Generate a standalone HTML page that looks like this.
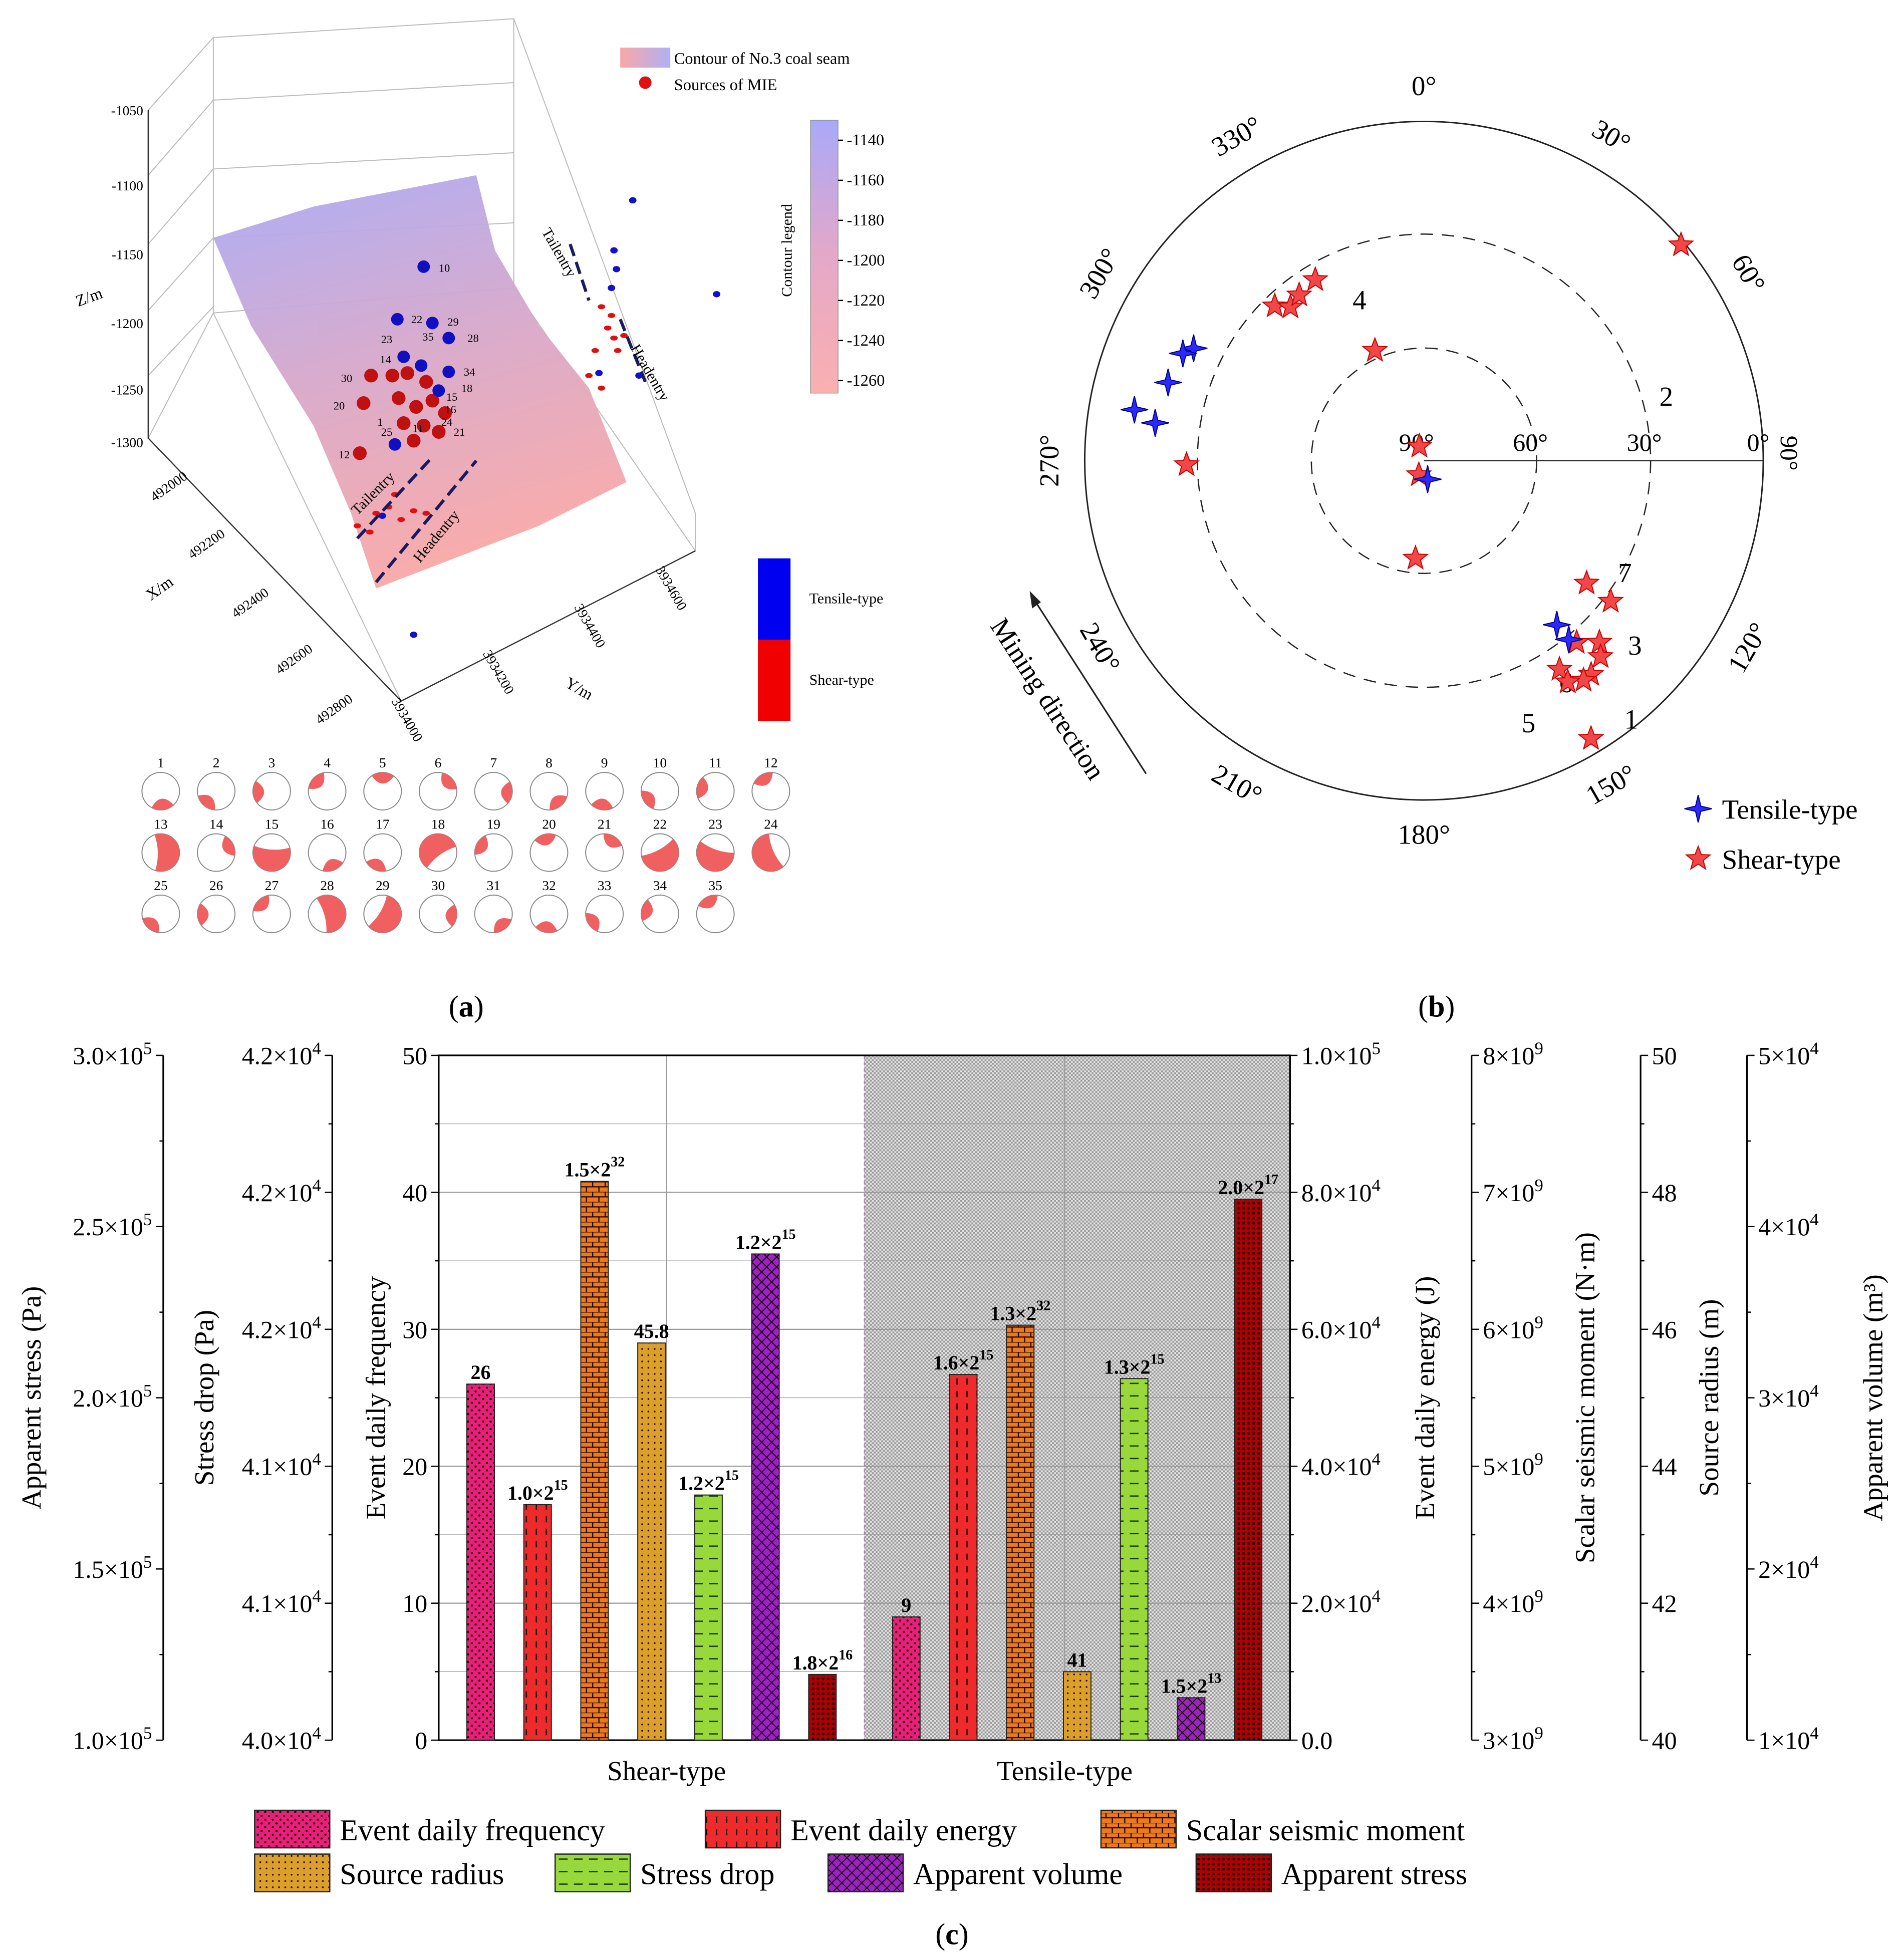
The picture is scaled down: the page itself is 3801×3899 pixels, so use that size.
<!DOCTYPE html>
<html><head><meta charset="utf-8">
<style>
html,body{margin:0;padding:0;background:#fff}
svg{display:block}
text{font-family:"Liberation Serif",serif;fill:#000}
</style></head>
<body>
<svg id="fig" width="3801" height="3899" viewBox="0 0 1520 1560" xmlns="http://www.w3.org/2000/svg">
<defs>
<linearGradient id="surf" x1="0" y1="0" x2="0.3" y2="1">
<stop offset="0" stop-color="#a9a9f5"/><stop offset="0.55" stop-color="#d9a8c8"/><stop offset="1" stop-color="#f7a8a8"/></linearGradient>
<linearGradient id="cbar" x1="0" y1="0" x2="0" y2="1">
<stop offset="0" stop-color="#a9a9f8"/><stop offset="0.5" stop-color="#e4a8c8"/><stop offset="1" stop-color="#fbb0b0"/></linearGradient>
<linearGradient id="leg1" x1="0" y1="0" x2="1" y2="0"><stop offset="0" stop-color="#f8a8a8"/><stop offset="1" stop-color="#b0b0f5"/></linearGradient>
<pattern id="grey" width="3" height="3" patternUnits="userSpaceOnUse"><rect width="3" height="3" fill="#e2e2e2"/><rect width="1.5" height="1.5" fill="#9a9a9a"/><rect x="1.5" y="1.5" width="1.5" height="1.5" fill="#9a9a9a"/></pattern>
<pattern id="p0" width="6" height="6" patternUnits="userSpaceOnUse"><rect width="6" height="6" fill="#e8207c"/><circle cx="1.5" cy="1.5" r="0.9" fill="#300"/><circle cx="4.5" cy="4.5" r="0.9" fill="#300"/></pattern>
<pattern id="p1" width="8" height="10" patternUnits="userSpaceOnUse"><rect width="8" height="10" fill="#ee2a2a"/><line x1="4" y1="1" x2="4" y2="6" stroke="#200" stroke-width="1"/></pattern>
<pattern id="p2" width="10" height="8" patternUnits="userSpaceOnUse"><rect width="10" height="8" fill="#e87a20"/><path d="M0 0H10M0 4H10M3 0V4M8 4V8" stroke="#200" stroke-width="0.9" fill="none"/></pattern>
<pattern id="p3" width="5" height="5" patternUnits="userSpaceOnUse"><rect width="5" height="5" fill="#dba02a"/><circle cx="2.5" cy="2.5" r="0.7" fill="#300"/></pattern>
<pattern id="p4" width="12" height="10" patternUnits="userSpaceOnUse"><rect width="12" height="10" fill="#98d83a"/><line x1="2" y1="5" x2="9" y2="5" stroke="#130" stroke-width="1"/></pattern>
<pattern id="p5" width="8" height="8" patternUnits="userSpaceOnUse"><rect width="8" height="8" fill="#9a22c8"/><path d="M0 8L8 0M0 0L8 8" stroke="#200" stroke-width="0.8"/></pattern>
<pattern id="p6" width="4" height="4" patternUnits="userSpaceOnUse"><rect width="4" height="4" fill="#b00000"/><rect width="2" height="2" fill="#200"/></pattern>
</defs>

<g>
<g stroke="#bbb" stroke-width="0.8" fill="none">
<path d="M118 88 L170 30 L410 15 L410 230 L170 250 L118 350 Z"/>
<path d="M170 30 V250 M410 15 L555 410 L555 440"/>
<path d="M118 140 L170 80 L410 66 M118 195 L170 135 L410 122 M118 248 L170 190 L410 178 M118 300 L170 245"/>
<path d="M410 230 L555 440 L320 560 L118 350"/>
<path d="M170 250 L320 560"/>
</g>
<g stroke="#333" stroke-width="1" fill="none"><path d="M118 88 V350 L320 560 L555 440"/></g>
<polygon points="170,190 250,165 380,140 395,200 430,260 470,310 500,385 430,420 300,470 280,410 250,340 200,260" fill="url(#surf)" opacity="0.95"/>
<g font-size="11">
<text x="114" y="92" text-anchor="end">-1050</text><text x="114" y="152" text-anchor="end">-1100</text>
<text x="114" y="207" text-anchor="end">-1150</text><text x="114" y="262" text-anchor="end">-1200</text>
<text x="114" y="315" text-anchor="end">-1250</text><text x="114" y="357" text-anchor="end">-1300</text>
<text x="62" y="245" font-size="13" transform="rotate(-20 62 245)">Z/m</text>
</g>
<g font-size="11">
<text x="150" y="382" transform="rotate(-35 150 382)" text-anchor="end">492000</text>
<text x="180" y="428" transform="rotate(-35 180 428)" text-anchor="end">492200</text>
<text x="215" y="475" transform="rotate(-35 215 475)" text-anchor="end">492400</text>
<text x="250" y="520" transform="rotate(-35 250 520)" text-anchor="end">492600</text>
<text x="282" y="560" transform="rotate(-35 282 560)" text-anchor="end">492800</text>
<text x="120" y="480" font-size="13" transform="rotate(-35 120 480)">X/m</text>
</g>
<g font-size="11">
<text x="312" y="560" transform="rotate(60 312 560)">3934000</text>
<text x="385" y="522" transform="rotate(60 385 522)">3934200</text>
<text x="458" y="485" transform="rotate(60 458 485)">3934400</text>
<text x="523" y="455" transform="rotate(60 523 455)">3934600</text>
<text x="450" y="548" font-size="13" transform="rotate(30 450 548)">Y/m</text>
</g>
<g id="sources"></g>
<g stroke="#1a1a60" stroke-width="2.5" stroke-dasharray="10 5" fill="none">
<path d="M285 430 L345 365"/><path d="M300 465 L380 368"/>
<path d="M455 195 L470 240"/><path d="M495 255 L515 305"/>
</g>
<text x="285" y="412" font-size="12" transform="rotate(-45 285 412)">Tailentry</text>
<text x="335" y="450" font-size="12" transform="rotate(-50 335 450)">Headentry</text>
<text x="432" y="185" font-size="12" transform="rotate(60 432 185)">Tailentry</text>
<text x="503" y="278" font-size="12" transform="rotate(60 503 278)">Headentry</text>
<g>
<rect x="495" y="38" width="40" height="16" fill="url(#leg1)"/>
<text x="538" y="51" font-size="13">Contour of No.3 coal seam</text>
<circle cx="515" cy="66" r="5" fill="#e01010"/>
<text x="538" y="72" font-size="13">Sources of MIE</text>
</g>
<g>
<rect x="647" y="96" width="22" height="218" fill="url(#cbar)" stroke="#888" stroke-width="0.5"/>
<g font-size="12" id="cbticks"></g>
<text x="632" y="200" font-size="12" transform="rotate(-90 632 200)" text-anchor="middle">Contour legend</text>
</g>
<g>
<rect x="605" y="446" width="26" height="65" fill="#0000f0"/>
<rect x="605" y="511" width="26" height="65" fill="#f00000"/>
<text x="646" y="482" font-size="12">Tensile-type</text>
<text x="646" y="547" font-size="12">Shear-type</text>
</g>
<g id="balls"></g>
<text x="372" y="812" font-size="24" text-anchor="middle">(<tspan font-weight="bold">a</tspan>)</text>
</g>

<g id="polar">
<circle cx="1137" cy="368" r="271" fill="none" stroke="#222" stroke-width="1.2"/>
<circle cx="1137" cy="368" r="181" fill="none" stroke="#222" stroke-dasharray="10 7"/>
<circle cx="1137" cy="368" r="90" fill="none" stroke="#222" stroke-dasharray="10 7"/>
<line x1="1137" y1="368" x2="1408" y2="368" stroke="#222"/>
<g font-size="20">
<text x="1117" y="360">90°</text><text x="1208" y="360">60°</text><text x="1299" y="360">30°</text><text x="1395" y="360">0°</text>
<text x="1422" y="348" transform="rotate(90 1422 348)">90°</text>
</g>
<g id="azlabels" font-size="22"></g>
<g font-size="22"><text x="1080" y="247">4</text><text x="1325" y="324">2</text><text x="1292" y="465">7</text><text x="1300" y="523">3</text><text x="1245" y="553">6</text><text x="1215" y="585">5</text><text x="1297" y="582">1</text></g>
<g id="stars"></g>
<g>
<line x1="915" y1="618" x2="825" y2="478" stroke="#222" stroke-width="1.3"/>
<path d="M822 472 L824 486 L831 481 Z" fill="#222"/>
<text x="790" y="500" font-size="22" transform="rotate(57 790 500)">Mining direction</text>
</g>
<g id="legend-b">
<text x="1375" y="654" font-size="22">Tensile-type</text>
<text x="1375" y="694" font-size="22">Shear-type</text>
</g>
<text x="1147" y="812" font-size="24" text-anchor="middle">(<tspan font-weight="bold">b</tspan>)</text>
</g>

<g id="bars">
<rect x="690" y="843" width="340" height="547" fill="url(#grey)"/>
<g id="grid" stroke="#999" stroke-width="0.8"></g>
<rect x="350" y="843" width="680" height="547" fill="none" stroke="#000" stroke-width="1.3"/>
<g id="barmarks"></g>
<g id="axes" font-size="20"></g>
<text x="532" y="1422" font-size="22" text-anchor="middle">Shear-type</text>
<text x="850" y="1422" font-size="22" text-anchor="middle">Tensile-type</text>
<g id="legend-c" font-size="24"></g>
<text x="760" y="1553" font-size="24" text-anchor="middle">(<tspan font-weight="bold">c</tspan>)</text>
</g>
</svg>
<script>
const NS='http://www.w3.org/2000/svg';
function mk(tag,attrs,parent,txt){const e=document.createElementNS(NS,tag);for(const k in attrs)e.setAttribute(k,attrs[k]);if(txt!==undefined)e.textContent=txt;parent.appendChild(e);return e;}

const groups=['Shear-type','Tensile-type'];
const seriesNames=['Event daily frequency','Event daily energy','Scalar seismic moment','Source radius','Stress drop','Apparent volume','Apparent stress'];
const shearValues=[26,17.2,40.8,29,17.9,35.5,4.8];
const tensileValues=[9,26.7,30.3,5,26.4,3.1,39.5];
const shearLabels=['26','1.0×2<sup>15</sup>','1.5×2<sup>32</sup>','45.8','1.2×2<sup>15</sup>','1.2×2<sup>15</sup>','1.8×2<sup>16</sup>'];
const tensileLabels=['9','1.6×2<sup>15</sup>','1.3×2<sup>32</sup>','41','1.3×2<sup>15</sup>','1.5×2<sup>13</sup>','2.0×2<sup>17</sup>'];
const freqTicks=[0,10,20,30,40,50];
const stressTicks=['1.0×10<sup>5</sup>','1.5×10<sup>5</sup>','2.0×10<sup>5</sup>','2.5×10<sup>5</sup>','3.0×10<sup>5</sup>'];
const dropTicks=['4.0×10<sup>4</sup>','4.1×10<sup>4</sup>','4.1×10<sup>4</sup>','4.2×10<sup>4</sup>','4.2×10<sup>4</sup>','4.2×10<sup>4</sup>'];
const energyTicks=['0.0','2.0×10<sup>4</sup>','4.0×10<sup>4</sup>','6.0×10<sup>4</sup>','8.0×10<sup>4</sup>','1.0×10<sup>5</sup>'];
const momentTicks=['3×10<sup>9</sup>','4×10<sup>9</sup>','5×10<sup>9</sup>','6×10<sup>9</sup>','7×10<sup>9</sup>','8×10<sup>9</sup>'];
const radiusTicks=['40','42','44','46','48','50'];
const volumeTicks=['1×10<sup>4</sup>','2×10<sup>4</sup>','3×10<sup>4</sup>','4×10<sup>4</sup>','5×10<sup>4</sup>'];

const X0=350,X1=1030,Y0=1390,Y1=843,YMAX=50;
const yS=v=>Y0-(v/YMAX)*(Y0-Y1);
const groupX=g=>X0+(g+0.5)*(X1-X0)/groups.length;
const barX=(g,i)=>groupX(g)+(i-3)*45.5;
const BW=22;

function richText(parent,x,y,html,attrs){
  const t=mk('text',Object.assign({x:x,y:y},attrs||{}),parent);
  const parts=html.split(/<sup>|<\/sup>/);
  parts.forEach((p,i)=>{ if(!p)return; const ts=mk('tspan',{},t,p); if(i%2===1){ts.setAttribute('dy','-8');ts.setAttribute('font-size','0.7em');} else if(i>0){ts.setAttribute('dy','8');}});
  return t;
}

const grid=document.getElementById('grid');
for(let v=5;v<50;v+=5){const l=mk('line',{x1:X0,x2:X1,y1:yS(v),y2:yS(v),'stroke-width':v%10?0.5:0.9},grid);}
[532,850].forEach(x=>{const l=mk('line',{x1:x,x2:x,y1:Y1,y2:Y0},grid);});
mk('line',{x1:690,x2:690,y1:Y1,y2:Y0,stroke:'#b080b0','stroke-dasharray':'3 2'},grid);

const bm=document.getElementById('barmarks');
[shearValues,tensileValues].forEach((vals,g)=>{
  const labs=g?tensileLabels:shearLabels;
  vals.forEach((v,i)=>{
    const r=mk('rect',{x:barX(g,i)-BW/2,y:yS(v),width:BW,height:Y0-yS(v),fill:'url(#p'+i+')',stroke:'#222','stroke-width':0.8},bm);
    
    
    const t=richText(bm,barX(g,i),yS(v)-4,labs[i],{'text-anchor':'middle','font-size':16,'font-weight':'bold'});
    
    
  });
});

const ax=document.getElementById('axes');
function axis(x,ticks,side,title,titleX){
  const g=mk('g',{},ax);
  
  
  mk('line',{x1:x,x2:x,y1:Y1,y2:Y0,stroke:'#000','stroke-width':1.3},g);
  const n=ticks.length-1;
  ticks.forEach((t,i)=>{
    const y=Y0-i*(Y0-Y1)/n;
    const d=side==='left'?-6:6;
    mk('line',{x1:x,x2:x+d,y1:y,y2:y,stroke:'#000'},g);
    if(i<n){const ym=y-(Y0-Y1)/n/2;mk('line',{x1:x,x2:x+d/2,y1:ym,y2:ym,stroke:'#000'},g);}
    richText(g,side==='left'?x-9:x+9,y+7,String(t),{'text-anchor':side==='left'?'end':'start','font-size':20});
  });
  const yc=(Y0+Y1)/2;
  mk('text',{x:titleX,y:yc,'text-anchor':'middle','font-size':22,transform:'rotate(-90 '+titleX+' '+yc+')'},g,title);
}
axis(130,stressTicks,'left','Apparent stress (Pa)',32);
axis(265,dropTicks,'left','Stress drop (Pa)',170);
axis(350,freqTicks,'left','Event daily frequency',307);
axis(1030,energyTicks,'right','Event daily energy (J)',1145);
axis(1175,momentTicks,'right','Scalar seismic moment (N·m)',1273);
axis(1310,radiusTicks,'right','Source radius (m)',1372);
axis(1395,volumeTicks,'right','Apparent volume (m³)',1503);

const lg=document.getElementById('legend-c');
const legPos=[[203,1461],[563,1461],[879,1461],[203,1496],[443,1496],[661,1496],[955,1496]];
seriesNames.forEach((n,i)=>{
  const g=mk('g',{},lg);
  
  
  mk('rect',{x:legPos[i][0],y:legPos[i][1]-15,width:60,height:30,fill:'url(#p'+i+')',stroke:'#222'},g);
  mk('text',{x:legPos[i][0]+68,y:legPos[i][1]+9,'font-size':24},g,n);
});

const shearAz=[50,329,316,319,336,269,342,200,185,127,127,140,136,147,142,138,144,147,149,323];
const shearDip=[1,34,33,36,58,27,86,86,64,36,28,27,23,24,18,20,18,20,4,35];
const tensileAz=[296,294,287,280,278,169,141,141];
const tensileDip=[22,20,19,12,18,85,34,29];
const azLabels=['0°','30°','60°','90°','120°','150°','180°','210°','240°','270°','300°','330°'];
const PC=[1137,368],PR=271;
const pol=(az,dip)=>{const r=(90-dip)/90*PR,a=az*Math.PI/180;return [PC[0]+r*Math.sin(a),PC[1]-r*Math.cos(a)];};
function starPts(cx,cy,n,ro,ri){let s=[];for(let k=0;k<2*n;k++){const r=k%2?ri:ro,a=Math.PI*k/n-Math.PI/2;s.push((cx+r*Math.cos(a)).toFixed(1)+','+(cy+r*Math.sin(a)).toFixed(1));}return s.join(' ');}
const st=document.getElementById('stars');
shearAz.forEach((a,i)=>{const p=pol(a,shearDip[i]);const t=mk('polygon',{points:starPts(p[0],p[1],5,10,4.2),fill:'#f04848',stroke:'#c00','stroke-width':0.8},st);});
tensileAz.forEach((a,i)=>{const p=pol(a,tensileDip[i]);const t=mk('polygon',{points:starPts(p[0],p[1],4,11,3),fill:'#2a2aff',stroke:'#00008a','stroke-width':0.8},st);});
const lb=document.getElementById('legend-b');
mk('polygon',{points:starPts(1356,646,4,11,3),fill:'#2a2aff',stroke:'#00008a','stroke-width':0.8},lb);
mk('polygon',{points:starPts(1356,686,5,10,4.2),fill:'#f04848',stroke:'#c00','stroke-width':0.8},lb);
const al=document.getElementById('azlabels');
azLabels.forEach((l,i)=>{ if(i===3)return; const a=i*30;const r=PR+28;const x=PC[0]+r*Math.sin(a*Math.PI/180),y=PC[1]-r*Math.cos(a*Math.PI/180);
  let rot=a; if(a>90&&a<270)rot=a-180;
  mk('text',{x:x,y:y+7,'text-anchor':'middle','font-size':22,transform:'rotate('+rot+' '+x+' '+y+')'},al,l);});

const src=document.getElementById('sources');
const bigBlue=[[338,213],[317,255],[345,258],[358,270],[322,285],[336,292],[358,297],[350,312],[315,355]];
const bigRed=[[296,300],[290,322],[313,300],[325,298],[340,305],[318,318],[332,325],[345,320],[355,330],[322,338],[338,340],[287,362],[350,345],[330,352]];
bigRed.forEach(p=>mk('circle',{cx:p[0],cy:p[1],r:5.5,fill:'#c01010'},src));
bigBlue.forEach(p=>mk('circle',{cx:p[0],cy:p[1],r:5,fill:'#1010c0'},src));
const smallRed=[[300,410],[310,405],[320,415],[330,408],[285,420],[295,425],[340,410],[315,395],[480,245],[485,262],[490,270],[475,280],[498,268],[470,300],[480,310],[488,252],[493,280]];
smallRed.forEach(p=>mk('ellipse',{cx:p[0],cy:p[1],rx:3,ry:2,fill:'#e01010'},src));
[[505,160],[490,200],[492,215],[572,235],[488,230],[330,507],[305,412],[478,298],[510,300]].forEach(p=>mk('ellipse',{cx:p[0],cy:p[1],rx:3,ry:2.5,fill:'#1010d0'},src));
const nums=[['10',350,217],['22',328,258],['29',357,260],['28',373,273],['23',304,274],['35',337,272],['14',303,290],['34',370,300],['18',368,313],['30',272,305],['20',266,327],['16',355,330],['15',356,320],['24',352,340],['21',362,348],['12',270,366],['11',329,345],['1',301,340],['25',304,348]];
nums.forEach(n=>mk('text',{x:n[1],y:n[2],'font-size':9},src,n[0]));
const cbt=document.getElementById('cbticks');
[-1140,-1160,-1180,-1200,-1220,-1240,-1260].forEach((v,i)=>{const y=112+i*32;mk('line',{x1:669,x2:673,y1:y,y2:y,stroke:'#000'},cbt);mk('text',{x:676,y:y+4,'font-size':13},cbt,String(v));});

const bb=document.getElementById('balls');
const heavy=[15,22,23,24,28,29,13,18];
for(let k=1;k<=35;k++){
  const row=Math.floor((k-1)/12),col=(k-1)%12;
  const cx=128+col*44.3,cy=632+row*49;
  const g=mk('g',{},bb);
  mk('text',{x:cx,y:cy-19,'text-anchor':'middle','font-size':11},g,String(k));
  mk('circle',{cx:cx,cy:cy,r:15,fill:'#fff',stroke:'#888','stroke-width':0.8},g);
  const ang=(k*47)%360*Math.PI/180, span=heavy.includes(k)?2.4:0.8;
  const a1=ang,a2=ang+span*Math.PI/2;
  const p1=[cx+15*Math.cos(a1),cy+15*Math.sin(a1)],p2=[cx+15*Math.cos(a2),cy+15*Math.sin(a2)];
  const large=span*Math.PI/2>Math.PI?1:0;
  mk('path',{d:`M${p1[0]} ${p1[1]} A15 15 0 ${large} 1 ${p2[0]} ${p2[1]} Q${cx} ${cy} ${p1[0]} ${p1[1]}Z`,fill:'#f06060'},g);
}
</script>
</body></html>
